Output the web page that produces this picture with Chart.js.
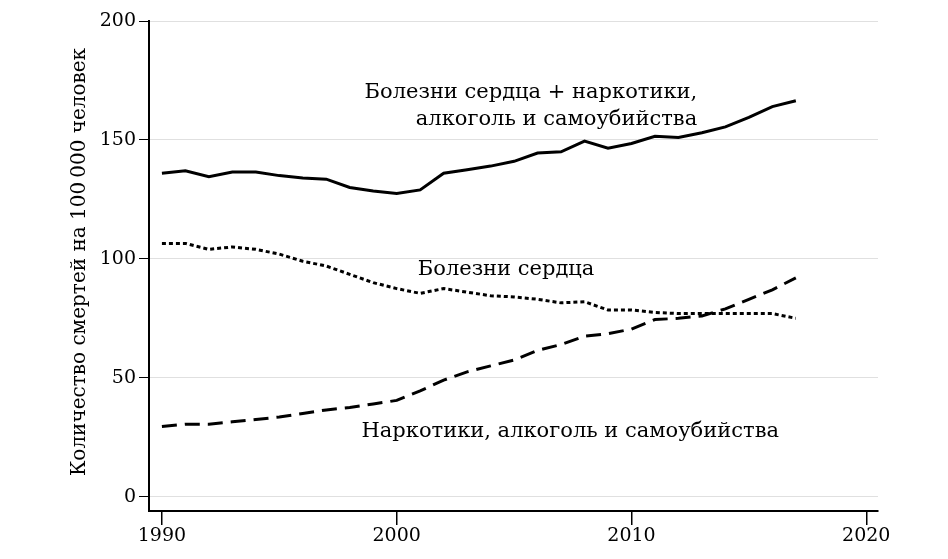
<!DOCTYPE html>
<html>
<head>
<meta charset="utf-8">
<script src="https://cdn.jsdelivr.net/npm/chart.js@4"></script>
<style>
  html, body { margin: 0; padding: 0; background: #fff; }
  #wrap { width: 948px; height: 559px; }
</style>
</head>
<body>
<div id="wrap"><canvas id="chart"></canvas></div>
<script>
const years = [1990,1991,1992,1993,1994,1995,1996,1997,1998,1999,2000,2001,2002,2003,2004,2005,2006,2007,2008,2009,2010,2011,2012,2013,2014,2015,2016,2017];
const combined = [136,137,134.5,136.5,136.5,135,134,133.5,130,128.5,127.5,129,136,137.5,139,141,144.5,145,149.5,146.5,148.5,151.5,151,153,155.5,159.5,164,166.5];
const heart = [106.5,106.5,104,105,104,102,99,97,93.5,90,87.5,85.5,87.5,86,84.5,84,83,81.5,82,78.5,78.5,77.5,77,77,77,77,77,75];
const drugs = [29.5,30.5,30.5,31.5,32.5,33.5,35,36.5,37.5,39,40.5,44.5,49,52.5,55,57.5,61.5,64,67.5,68.5,70.5,74.5,75,76,79,83,87,92];
const xTicks = [1990, 2000, 2010, 2020];
const yTicks = [0, 50, 100, 150, 200];
const yTitle = "Количество смертей на 100\u2009000 человек";
const notes = [
  { text: "Болезни сердца + наркотики,", x: 2012.8, y: 170, align: "right" },
  { text: "алкоголь и самоубийства", x: 2012.8, y: 158.4, align: "right" },
  { text: "Болезни сердца", x: 2000.9, y: 95.4, align: "left" },
  { text: "Наркотики, алкоголь и самоубийства", x: 1998.5, y: 27.3, align: "left" }
];

const FONT = "'DejaVu Serif', 'Liberation Serif', serif";

const toPts = arr => arr.map((v, i) => ({ x: years[i], y: v }));

const notesPlugin = {
  id: "notes",
  afterDatasetsDraw(chart) {
    const { ctx, chartArea, scales: { x, y } } = chart;
    ctx.save();
    ctx.fillStyle = "#000";
    ctx.font = "21px " + FONT;
    ctx.textBaseline = "middle";
    notes.forEach(n => {
      ctx.textAlign = n.align;
      ctx.fillText(n.text, x.getPixelForValue(n.x), y.getPixelForValue(n.y));
    });
    // y axis title
    ctx.translate(80, 262);
    ctx.rotate(-Math.PI / 2);
    ctx.textAlign = "center";
    ctx.font = "20px " + FONT;
    ctx.fillText(yTitle, 0, 0);
    ctx.restore();
  }
};

const line = (data, dash) => ({
  data: toPts(data),
  borderColor: "#000",
  borderWidth: 3,
  borderDash: dash,
  pointRadius: 0,
  tension: 0,
  fill: false
});

new Chart(document.getElementById("chart"), {
  type: "line",
  data: {
    datasets: [
      line(combined, []),
      line(heart, [4, 3]),
      line(drugs, [15, 8])
    ]
  },
  options: {
    responsive: true,
    maintainAspectRatio: false,
    animation: false,
    layout: { padding: { left: 0, right: 70, top: 21, bottom: 0 } },
    plugins: { legend: { display: false }, tooltip: { enabled: false } },
    scales: {
      x: {
        type: "linear",
        min: 1989.45,
        max: 2020.5,
        afterBuildTicks: s => { s.ticks = xTicks.map(v => ({ value: v })); },
        afterFit: s => { s.height = 48; },
        border: { color: "#000", width: 2 },
        grid: { drawOnChartArea: false, drawTicks: true, tickLength: 14, color: "#000", lineWidth: 1.5 },
        ticks: { color: "#000", font: { family: FONT, size: 19 }, padding: 0, callback: v => String(v) }
      },
      y: {
        type: "linear",
        min: -6,
        max: 200,
        afterBuildTicks: s => { s.ticks = yTicks.map(v => ({ value: v })); },
        afterFit: s => { s.width = 149; },
        border: { color: "#000", width: 2 },
        grid: { color: "#e0e0e0", lineWidth: 1, tickColor: "#000", tickLength: 10 },
        ticks: { color: "#000", font: { family: FONT, size: 19 }, padding: 3 }
      }
    }
  },
  plugins: [notesPlugin]
});
</script>
</body>
</html>
